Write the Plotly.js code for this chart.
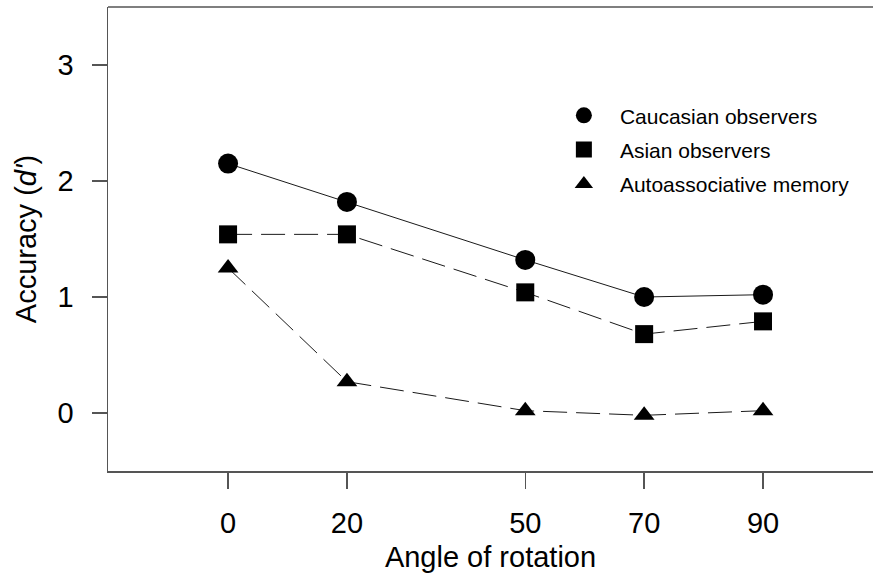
<!DOCTYPE html>
<html>
<head>
<meta charset="utf-8">
<script src="https://cdn.plot.ly/plotly-3.0.1.min.js"></script>
<style>html,body{margin:0;padding:0;background:#fff;}#chart{width:873px;height:579px;}</style>
</head>
<body>
<div id="chart"></div>
<script>
var angles = [0, 20, 50, 70, 90];
var tickLabels = ["0", "20", "50", "70", "90"];
var caucasian = [2.15, 1.82, 1.32, 1.00, 1.02];
var asian = [1.54, 1.54, 1.04, 0.68, 0.79];
var autoassoc = [1.25, 0.27, 0.02, -0.02, 0.02];
var seriesNames = ["Caucasian observers", "Asian observers", "Autoassociative memory"];

var lineColor = "#1a1a1a";
var traces = [
  {x: angles, y: caucasian, mode: "lines+markers", showlegend: false,
   line: {color: lineColor, width: 1}, marker: {symbol: "circle", size: 20, color: "#000"}},
  {x: angles, y: asian, mode: "lines+markers", showlegend: false,
   line: {color: lineColor, width: 1, dash: "24px,9px"}, marker: {symbol: "square", size: 18, color: "#000"}},
  {x: angles, y: autoassoc, mode: "lines+markers", showlegend: false,
   line: {color: lineColor, width: 1, dash: "24px,9px"}, marker: {symbol: "triangle-up", size: 18, color: "#000"}},
  {x: [null], y: [null], mode: "markers", name: seriesNames[0], legendgroup: "a",
   marker: {symbol: "circle", size: 20, color: "#000"}},
  {x: [null], y: [null], mode: "markers", name: seriesNames[1], legendgroup: "b",
   marker: {symbol: "square", size: 18, color: "#000"}},
  {x: [null], y: [null], mode: "markers", name: seriesNames[2], legendgroup: "c",
   marker: {symbol: "triangle-up", size: 18, color: "#000"}}
];

var font = "Liberation Sans, Arial, sans-serif";
var layout = {
  width: 873, height: 579,
  margin: {l: 108, r: 0, t: 7, b: 108},
  paper_bgcolor: "#fff", plot_bgcolor: "#fff",
  font: {family: font, color: "#000"},
  xaxis: {
    range: [-20.2, 108.5], tickvals: angles, ticktext: tickLabels,
    showgrid: false, zeroline: false, showline: true, linecolor: "#555", linewidth: 1.5,
    ticks: "outside", ticklen: 16, tickwidth: 1.5, tickcolor: "#555",
    tickfont: {size: 29, family: font}, ticklabelstandoff: 10,
    title: {text: "Angle of rotation", font: {size: 29, family: font}, standoff: 8}
  },
  yaxis: {
    range: [-0.5, 3.5], tickvals: [0, 1, 2, 3],
    showgrid: false, zeroline: false, showline: true, linecolor: "#555", linewidth: 1.5,
    ticks: "outside", ticklen: 15, tickwidth: 1.5, tickcolor: "#555",
    tickfont: {size: 29, family: font}, ticklabelstandoff: 12,
    title: {text: "Accuracy (<i>d'</i>)", font: {size: 29, family: font}, standoff: 12}
  },
  shapes: [{type: "line", xref: "paper", yref: "paper", x0: 0, x1: 1, y0: 1, y1: 1,
            line: {color: "#555", width: 1.5}}],
  legend: {x: 0.575, y: 0.81, xanchor: "left", yanchor: "top", bgcolor: "rgba(0,0,0,0)",
           font: {size: 21, family: font}, itemwidth: 62, tracegroupgap: 4, itemsizing: "trace"},
  showlegend: true
};
Plotly.newPlot("chart", traces, layout, {displayModeBar: false, staticPlot: true});
</script>
</body>
</html>
